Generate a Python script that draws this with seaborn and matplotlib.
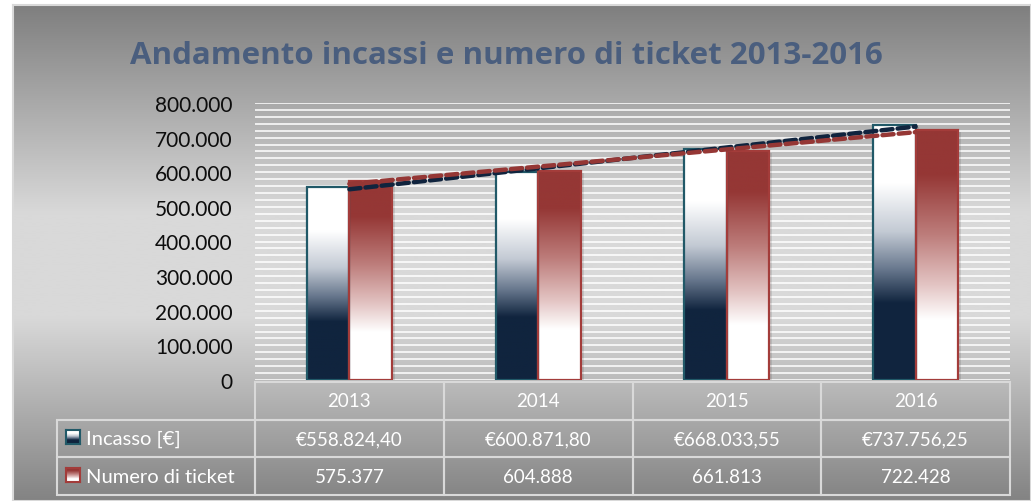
# plot.py

# LIBRARIES
import numpy as np
import pandas as pd
import matplotlib
matplotlib.use('Agg')
import matplotlib.pyplot as plt
import matplotlib.transforms as mtransforms
from matplotlib.colors import LinearSegmentedColormap
from matplotlib.patches import Rectangle
from matplotlib.table import Table
import seaborn as sns


# DATA
anni = ['2013', '2014', '2015', '2016']
incasso = [558824.40, 600871.80, 668033.55, 737756.25]
ticket = [575377, 604888, 661813, 722428]
serie = ['Incasso [€]', 'Numero di ticket']
titolo = 'Andamento incassi e numero di ticket 2013-2016'
y_ticks = [0, 100000, 200000, 300000, 400000, 500000, 600000, 700000, 800000]

df = pd.DataFrame({
    'anno': anni * 2,
    'valore': incasso + ticket,
    'serie': [serie[0]] * len(anni) + [serie[1]] * len(anni),
})


def it_num(v, dec=0):
    # italian style: 1.234,56
    s = f'{v:,.{dec}f}'
    return s.replace(',', '#').replace('.', ',').replace('#', '.')


# COLOURS
NAVY = '#10243e'
RED = '#953735'
grad = np.linspace(0, 1, 256).reshape(-1, 1)
cm_bg = LinearSegmentedColormap.from_list(
    'bg', [(0, '#7f7f7f'), (0.42, '#d9d9d9'), (0.63, '#d9d9d9'), (1, '#838383')])
cm_inc = LinearSegmentedColormap.from_list(
    'inc', [(0, 'white'), (0.23, 'white'), (0.42, '#c3cad4'),
            (0.57, '#66768c'), (0.70, NAVY), (1, NAVY)])
cm_tic = LinearSegmentedColormap.from_list(
    'tic', [(0, RED), (0.18, RED), (0.42, '#bd7d7b'),
            (0.62, '#e3c4c3'), (0.76, 'white'), (1, 'white')])

plt.rcParams['font.family'] = ['Lato', 'DejaVu Sans']

# FIGURE (pixel helpers, y measured from the top)
W, H = 1031, 502
fig = plt.figure(figsize=(W / 100, H / 100), dpi=100, facecolor='white')


def fx(px):
    return px / W


def fy(py):
    return 1 - py / H


# BACKGROUND GRADIENT
bg = fig.add_axes([fx(13), 0, 1 - fx(13), fy(6)])
bg.imshow(grad, cmap=cm_bg, aspect='auto', extent=[0, 1, 0, 1])
bg.set_xticks([])
bg.set_yticks([])
for s in bg.spines.values():
    s.set_color('#d9d9d9')
    s.set_linewidth(1.5)

# MAIN AXES
ax = fig.add_axes([fx(255), fy(381), fx(1010) - fx(255), fy(104) - fy(381)])
ax.set_facecolor('none')

sns.barplot(
    data=df,
    x='anno',
    y='valore',
    hue='serie',
    width=0.45,
    palette=[NAVY, RED],
    saturation=1,
    legend=False,
    ax=ax,
    zorder=3
)

# gradient fill + soft shadow for each bar
shadow_tr = mtransforms.offset_copy(ax.transData, fig=fig, x=3, y=-2, units='dots')
for cont, cmap, edge in zip(ax.containers, [cm_inc, cm_tic], ['#215968', '#a33c3a']):
    for bar in cont:
        x0, y0 = bar.get_x(), bar.get_y()
        w, h = bar.get_width(), bar.get_height()
        ax.add_patch(Rectangle((x0, y0), w, h, transform=shadow_tr,
                               facecolor='black', alpha=0.10, lw=0, zorder=2))
        im = ax.imshow(grad, cmap=cmap, aspect='auto',
                       extent=[x0, x0 + w, y0, y0 + h], zorder=3)
        im.set_clip_path(bar)
        bar.set_facecolor('none')
        bar.set_edgecolor(edge)
        bar.set_linewidth(1.6)
        bar.set_zorder(4)

# LINEAR TRENDLINES
xs = np.arange(len(anni))
for vals, col in [(incasso, NAVY), (ticket, RED)]:
    sns.regplot(
        x=xs,
        y=np.array(vals),
        scatter=False,
        ci=None,
        truncate=True,
        ax=ax,
        line_kws=dict(color=col, lw=3.2, ls=(0, (2.5, 1.15)),
                      dash_capstyle='round', zorder=5)
    )

ax.set_xlim(-0.5, len(anni) - 0.5)
ax.set_ylim(0, 800000)
ax.set_yticks(y_ticks)
ax.set_yticklabels([it_num(v) for v in y_ticks], fontsize=15, color='#0d0d0d')
ax.set_yticks(np.arange(0, 800001, 20000), minor=True)
ax.grid(axis='y', which='both', color='white', lw=1.3, alpha=0.85)
ax.set_axisbelow(True)
ax.tick_params(axis='both', which='both', length=0)
ax.tick_params(axis='y', pad=16)
ax.tick_params(axis='x', labelbottom=False)
ax.set_xlabel('')
ax.set_ylabel('')
for s in ax.spines.values():
    s.set_visible(False)

# DATA TABLE
ax_w, ax_h = 755, 277
row_h = 37.7 / ax_h
tab = Table(ax, bbox=[0, -3 * row_h - 2 / ax_h, 1, 3 * row_h])
rows = [
    anni,
    ['€' + it_num(v, 2) for v in incasso],
    [it_num(v) for v in ticket],
]
for r, row in enumerate(rows):
    for c, txt in enumerate(row):
        tab.add_cell(r, c, width=1 / len(anni), height=row_h,
                     text=txt, loc='center', facecolor='none', edgecolor='#d9d9d9')
for r, lab in enumerate(serie, start=1):
    cell = tab.add_cell(r, -1, width=198 / ax_w, height=row_h,
                        text=lab, loc='left', facecolor='none', edgecolor='#d9d9d9')
    cell.PAD = 29 / 198
tab.auto_set_font_size(False)
tab.set_fontsize(13.5)
for (r, c), cell in tab.get_celld().items():
    cell.set_linewidth(1.5)
    cell.get_text().set_color('white')
    if c == -1:
        cell.get_text().set_fontsize(14.5)
ax.add_table(tab)

# legend keys inside the table
for top, cmap, edge in [(431, cm_inc, '#215968'), (469, cm_tic, '#a33c3a')]:
    kax = fig.add_axes([fx(66), fy(top + 14), 14 / W, 14 / H])
    kax.imshow(grad, cmap=cmap, aspect='auto', extent=[0, 1, 0, 1])
    kax.set_xticks([])
    kax.set_yticks([])
    for s in kax.spines.values():
        s.set_color(edge)
        s.set_linewidth(1.5)

# TITLE
fig.text(fx(506), fy(56), titolo, ha='center', va='center',
         fontsize=22.5, fontweight='bold', color='#4a5e7e',
         family=['Open Sans', 'DejaVu Sans'])

plt.savefig('out.png', dpi=100, facecolor='white')
